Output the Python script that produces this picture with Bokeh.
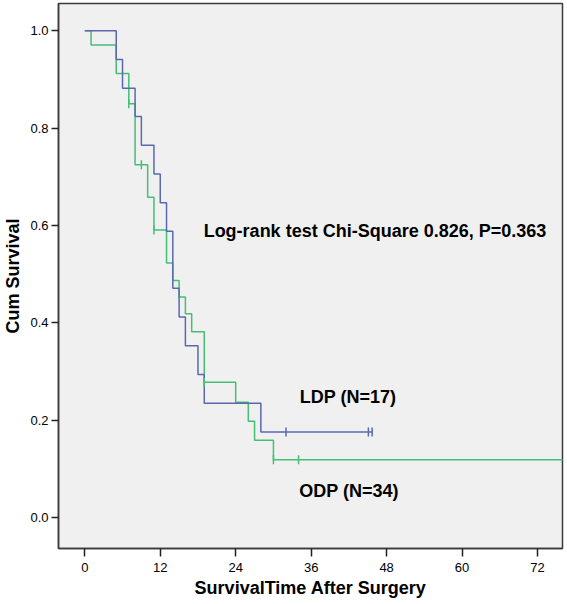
from bokeh.plotting import figure
from bokeh.models import Range1d, FixedTicker, PrintfTickFormatter, Label
from bokeh.embed import file_html
from bokeh.resources import INLINE
import math

# ---- data ----
ldp_time = [0, 5, 6, 8, 9, 11, 12, 13, 14, 15, 16, 18, 19, 28, 45.7]
ldp_surv = [1.0, 0.941, 0.882, 0.824, 0.765, 0.706, 0.647, 0.588, 0.471, 0.412,
            0.353, 0.294, 0.235, 0.176, 0.176]
ldp_cens_time = [32, 45.1, 45.7]
ldp_cens_surv = [0.176, 0.176, 0.176]

odp_time = [0, 1, 5, 7, 8, 10, 11, 13, 14, 15, 16, 17, 19, 24, 26, 27, 30, 80]
odp_surv = [1.0, 0.971, 0.912, 0.850, 0.725, 0.658, 0.591, 0.523, 0.487, 0.453,
            0.419, 0.382, 0.278, 0.237, 0.198, 0.159, 0.119, 0.119]
odp_cens_time = [7, 9, 11, 19, 30, 34]
odp_cens_surv = [0.850, 0.725, 0.591, 0.278, 0.119, 0.119]

x_ticks = [0, 12, 24, 36, 48, 60, 72]
y_ticks = [0.0, 0.2, 0.4, 0.6, 0.8, 1.0]

BLUE = "#5A69AF"
GREEN = "#45BF74"
FONT = "Liberation Sans"

p = figure(width=567, height=604, output_backend="svg", toolbar_location=None,
           x_range=Range1d(-4.18, 75.97), y_range=Range1d(-0.0633, 1.056),
           min_border_left=56, min_border_right=5, min_border_top=3, min_border_bottom=56)

p.background_fill_color = "#F0F0F0"
p.border_fill_color = "white"
p.outline_line_color = "#3a3a3a"
p.outline_line_width = 1.5
p.xgrid.visible = False
p.ygrid.visible = False

# curves
p.step(x=odp_time, y=odp_surv, mode="after", line_color=GREEN, line_width=1.5)
p.step(x=ldp_time, y=ldp_surv, mode="after", line_color=BLUE, line_width=1.5)
p.scatter(x=odp_cens_time, y=odp_cens_surv, marker="dash", angle=math.pi / 2,
          size=9, line_color=GREEN, line_width=1.5)
p.scatter(x=ldp_cens_time, y=ldp_cens_surv, marker="dash", angle=math.pi / 2,
          size=9, line_color=BLUE, line_width=1.5)

# axes
for ax in (p.xaxis[0], p.yaxis[0]):
    ax.axis_line_color = "#3a3a3a"
    ax.axis_line_width = 1.5
    ax.major_tick_line_color = "#222222"
    ax.major_tick_line_width = 1.5
    ax.major_tick_in = 0
    ax.minor_tick_line_color = None
    ax.major_label_text_font = FONT
    ax.major_label_text_font_size = "13px"
    ax.major_label_text_color = "black"
    ax.axis_label_text_font = FONT
    ax.axis_label_text_font_size = "18px"
    ax.axis_label_text_font_style = "bold"
    ax.axis_label_text_color = "black"

p.xaxis.ticker = FixedTicker(ticks=x_ticks)
p.xaxis.major_tick_out = 8
p.xaxis.major_label_standoff = 6
p.xaxis.axis_label = "SurvivalTime After Surgery"
p.xaxis.axis_label_standoff = 3

p.yaxis.ticker = FixedTicker(ticks=y_ticks)
p.yaxis.formatter = PrintfTickFormatter(format="%.1f")
p.yaxis.major_tick_out = 7
p.yaxis.major_label_standoff = 3
p.yaxis.axis_label = "Cum Survival"
p.yaxis.axis_label_standoff = 4

# annotations
def add_label(x, y, text):
    p.add_layout(Label(x=x, y=y, text=text, text_font=FONT, text_font_size="18px",
                       text_font_style="bold", text_color="black",
                       text_baseline="middle", text_align="left"))

add_label(18.9, 0.588, "Log-rank test Chi-Square 0.826, P=0.363")
add_label(34.2, 0.247, "LDP (N=17)")
add_label(34.1, 0.055, "ODP (N=34)")

open("out.html", "w").write(file_html(p, INLINE))
